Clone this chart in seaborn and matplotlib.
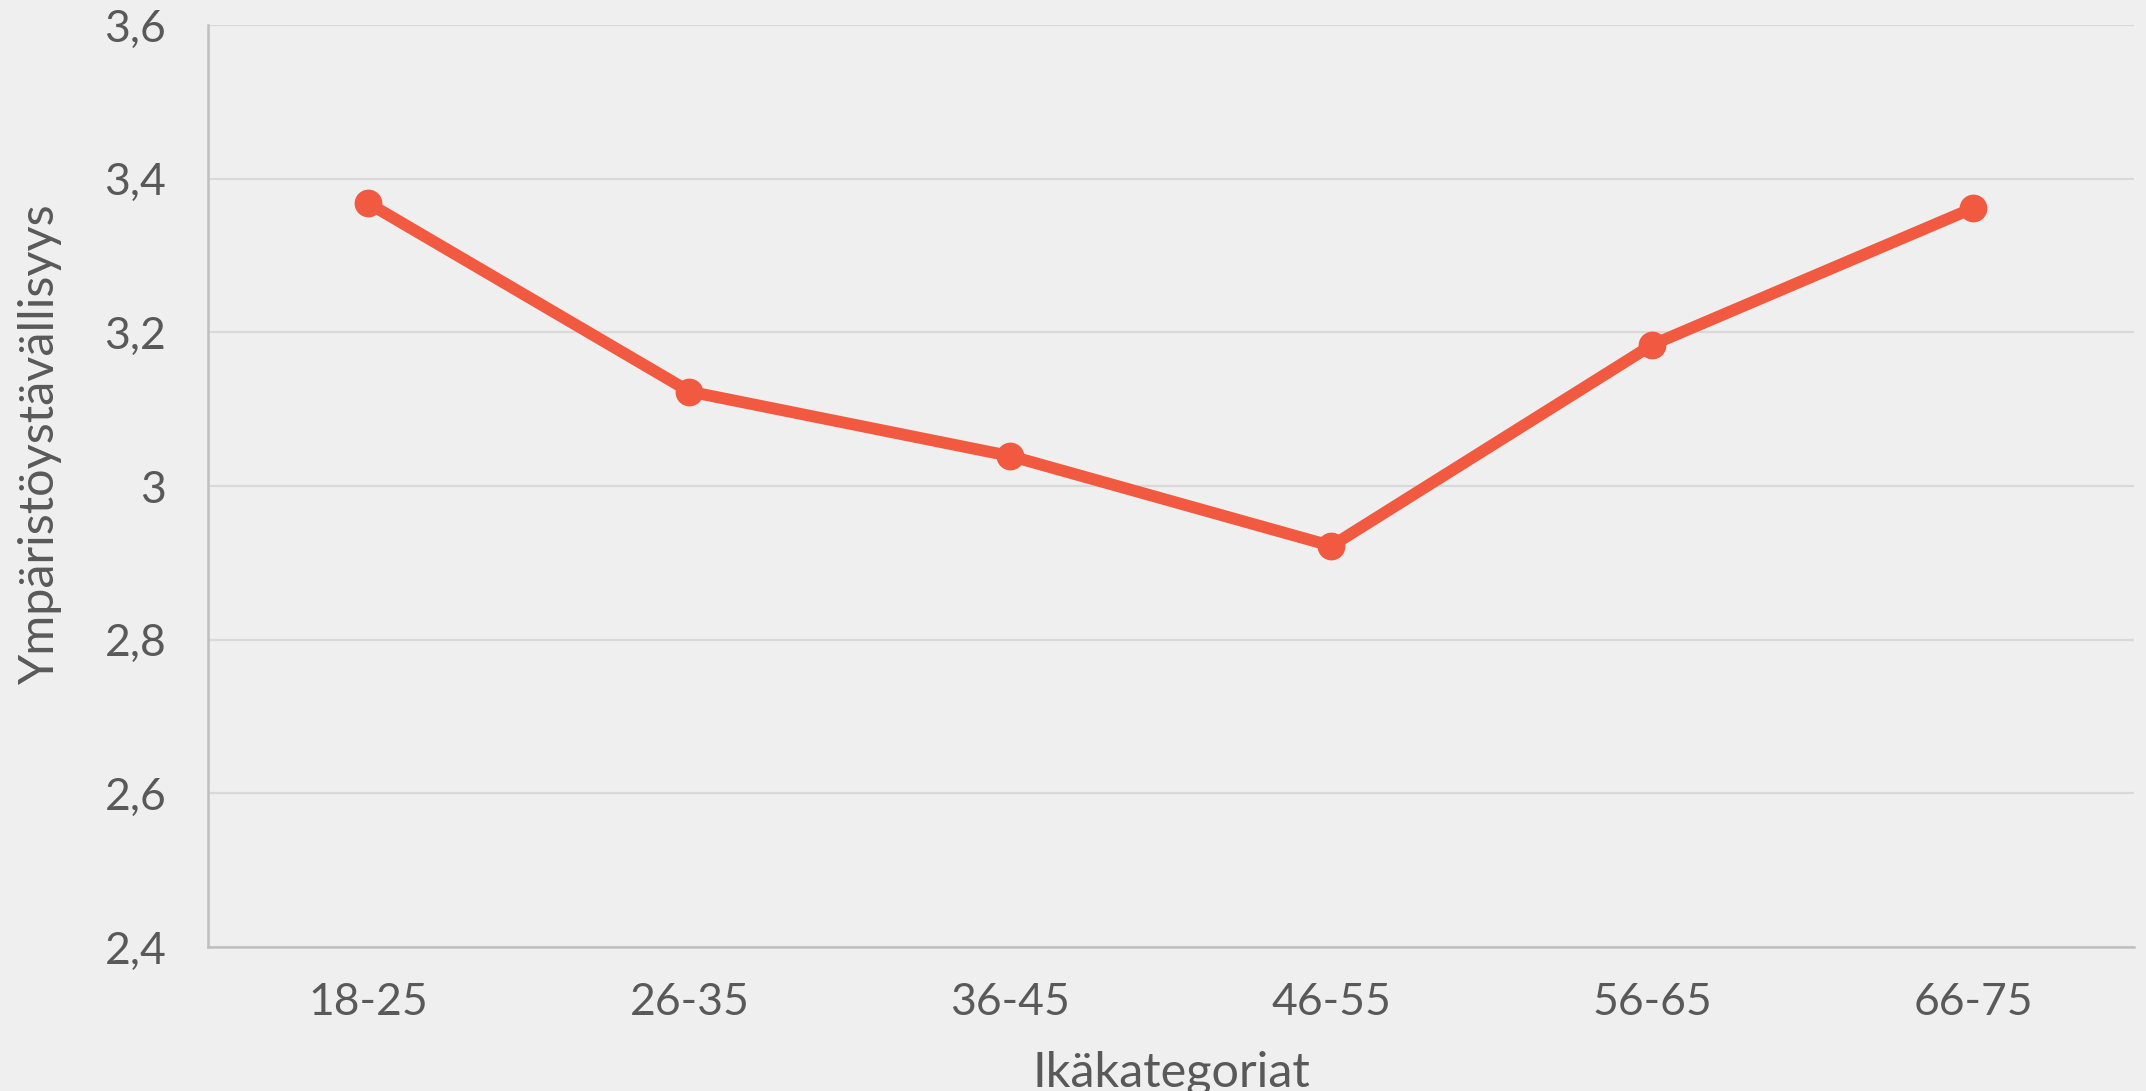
import matplotlib
matplotlib.use('Agg')
import matplotlib.pyplot as plt
import matplotlib.ticker as mticker
import seaborn as sns
import pandas as pd

# data
age_groups = ['18-25', '26-35', '36-45', '46-55', '56-65', '66-75']
scores = [3.368, 3.123, 3.039, 2.922, 3.184, 3.362]
y_ticks = [2.4, 2.6, 2.8, 3.0, 3.2, 3.4, 3.6]

x_label = 'Ikäkategoriat'
y_label = 'Ympäristöystävällisyys'

bg = '#EFEFEF'
line_color = '#F15A40'
text_color = '#595959'
grid_color = '#D9D9D9'
axis_color = '#BFBFBF'

sns.set_style('white')
plt.rcParams['font.family'] = ['Lato', 'DejaVu Sans']

df = pd.DataFrame({'age': age_groups, 'score': scores})

fig = plt.figure(figsize=(21.46, 10.91), dpi=100, facecolor=bg)
ax = fig.add_axes([0.0969, 0.132, 0.8975, 0.845])
ax.set_facecolor(bg)

sns.lineplot(data=df, x='age', y='score', sort=False, ax=ax,
             color=line_color, linewidth=8.5, marker='o', markersize=20,
             markeredgewidth=0, zorder=3)

ax.set_xlim(-0.5, len(age_groups) - 0.5)
ax.set_ylim(y_ticks[0], y_ticks[-1])
ax.set_yticks(y_ticks)
ax.yaxis.set_major_formatter(
    mticker.FuncFormatter(lambda v, p: f'{v:g}'.replace('.', ',')))

ax.grid(axis='y', color=grid_color, linewidth=1.6, zorder=0)
ax.grid(axis='x', visible=False)
ax.set_axisbelow(True)

for side in ['top', 'right']:
    ax.spines[side].set_visible(False)
for side in ['left', 'bottom']:
    ax.spines[side].set_color(axis_color)
    ax.spines[side].set_linewidth(1.8)

ax.tick_params(axis='both', length=0, labelsize=32, labelcolor=text_color)
ax.tick_params(axis='y', pad=30)
ax.tick_params(axis='x', pad=25)

ax.set_xlabel(x_label, fontsize=35, color=text_color)
ax.set_ylabel(y_label, fontsize=35, color=text_color)
ax.xaxis.set_label_coords(0.5, -0.112)
ax.yaxis.set_label_coords(-0.076, 0.545)

fig.savefig('out.png', dpi=100, facecolor=bg)
